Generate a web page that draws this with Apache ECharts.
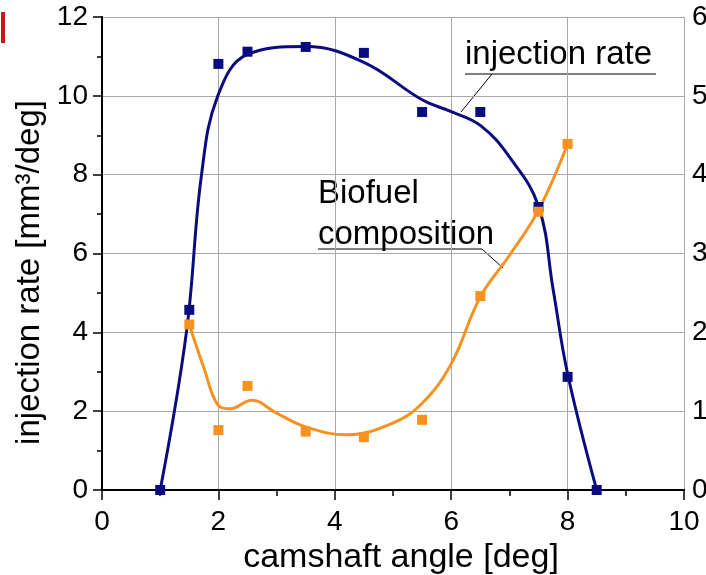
<!DOCTYPE html>
<html>
<head>
<meta charset="utf-8">
<script src="https://cdn.jsdelivr.net/npm/echarts@6/dist/echarts.min.js"></script>
<style>
  html, body { margin: 0; background: #fff; }
  #chart { width: 706px; height: 575px; }
</style>
</head>
<body>
<div id="chart"></div>
<script>
// measured points
const injAngle = [1, 1.5, 2, 2.5, 3.5, 4.5, 5.5, 6.5, 7.5, 8, 8.5]
const injRate = [0, 4.57, 10.81, 11.12, 11.24, 11.09, 9.59, 9.59, 7.18, 2.87, 0]
const bioAngle = [1.5, 2, 2.5, 3.5, 4.5, 5.5, 6.5, 7.5, 8]
const bioComp = [2.1, 0.76, 1.32, 0.74, 0.67, 0.89, 2.46, 3.53, 4.39]

// fitted curves
const injFitAngle = [1, 1.45, 1.71, 1.99, 2.5, 3.5, 4.5, 5.5, 6, 6.5, 7, 7.5, 7.75, 8, 8.5]
const injFit = [0, 4.0, 8.0, 10.0, 11.05, 11.25, 10.85, 9.9, 9.6, 9.25, 8.45, 7.2, 5.1, 2.95, 0]
const bioFitAngle = [1.5, 1.75, 2, 2.2, 2.57, 3, 3.5, 4.2, 5, 5.5, 6, 6.5, 7, 7.5, 8]
const bioFit = [2.1, 1.55, 1.07, 1.03, 1.14, 0.975, 0.8, 0.7, 0.85, 1.1, 1.6, 2.45, 2.975, 3.55, 4.39]

const FONT = '"Liberation Sans", Arial, sans-serif'
const BLUE = '#0b0b80'
const ORANGE = '#f7921f'

const zip = (xs, ys) => xs.map((x, i) => [x, ys[i]])

const chart = echarts.init(document.getElementById('chart'))

const axisLine = { show: true, lineStyle: { color: '#000', width: 2 } }
const tickStyle = { color: '#000', width: 1.5 }

const option = {
  animation: false,
  backgroundColor: '#fff',
  grid: { left: 102, right: 22, top: 17, bottom: 85, containLabel: false, outerBoundsMode: 'none' },
  xAxis: [
    {
      type: 'value',
      min: 0,
      max: 10,
      interval: 2,
      position: 'bottom',
      name: 'camshaft angle [deg]',
      nameLocation: 'middle',
      nameGap: 50,
      nameTextStyle: { fontFamily: FONT, fontSize: 34, color: '#000', padding: [0, 0, 0, 16] },
      axisLine: axisLine,
      axisTick: { show: true, inside: false, length: 10, lineStyle: tickStyle },
      minorTick: { show: true, splitNumber: 2, length: 6, lineStyle: tickStyle },
      axisLabel: { fontFamily: FONT, fontSize: 28, color: '#000', margin: 18 },
      splitLine: { show: true, lineStyle: { color: '#a8a8a8', width: 1 } },
    },
    {
      type: 'value',
      min: 0,
      max: 10,
      interval: 2,
      position: 'top',
      axisLine: axisLine,
      axisTick: { show: true, inside: true, length: 10, lineStyle: tickStyle },
      minorTick: { show: true, splitNumber: 2, length: 6, lineStyle: tickStyle },
      axisLabel: { show: false },
      splitLine: { show: false },
    },
  ],
  yAxis: [
    {
      type: 'value',
      min: 0,
      max: 12,
      interval: 2,
      position: 'left',
      name: 'injection rate [mm³/deg]',
      nameLocation: 'middle',
      nameRotate: 90,
      nameGap: 52,
      nameTextStyle: { fontFamily: FONT, fontSize: 33, color: '#000', padding: [0, 38, 0, 0] },
      axisLine: axisLine,
      axisTick: { show: true, inside: false, length: 9, lineStyle: tickStyle },
      minorTick: { show: true, splitNumber: 2, length: 5, lineStyle: tickStyle },
      axisLabel: { fontFamily: FONT, fontSize: 28, color: '#000', margin: 14 },
      splitLine: { show: true, lineStyle: { color: '#a8a8a8', width: 1 } },
    },
    {
      type: 'value',
      min: 0,
      max: 6,
      interval: 1,
      position: 'right',
      axisLine: axisLine,
      axisTick: { show: true, inside: true, length: 9, lineStyle: tickStyle },
      minorTick: { show: true, splitNumber: 2, length: 5, lineStyle: tickStyle },
      axisLabel: { fontFamily: FONT, fontSize: 28, color: '#000', margin: 8 },
      splitLine: { show: false },
    },
  ],
  series: [
    {
      name: 'injection rate fit',
      type: 'line',
      data: zip(injFitAngle, injFit),
      smooth: 0.4,
      showSymbol: false,
      lineStyle: { color: BLUE, width: 3 },
      z: 3,
    },
    {
      name: 'injection rate',
      type: 'scatter',
      data: zip(injAngle, injRate),
      symbol: 'rect',
      symbolSize: 10,
      itemStyle: { color: BLUE, opacity: 1 },
      z: 4,
    },
    {
      name: 'biofuel fit',
      type: 'line',
      yAxisIndex: 1,
      data: zip(bioFitAngle, bioFit),
      smooth: 0.4,
      showSymbol: false,
      lineStyle: { color: ORANGE, width: 3 },
      z: 3,
    },
    {
      name: 'biofuel composition',
      type: 'scatter',
      yAxisIndex: 1,
      data: zip(bioAngle, bioComp),
      symbol: 'rect',
      symbolSize: 10,
      itemStyle: { color: ORANGE, opacity: 1 },
      z: 4,
    },
  ],
  graphic: [
    { type: 'rect', shape: { x: 1, y: 12, width: 4, height: 31 }, style: { fill: '#d3111c' } },
    {
      type: 'text', x: 465, y: 55,
      style: { text: 'injection rate', font: '33px ' + FONT, fill: '#000', textVerticalAlign: 'middle' },
    },
    { type: 'line', shape: { x1: 465, y1: 74, x2: 656, y2: 74 }, style: { stroke: '#000', lineWidth: 1 } },
    { type: 'line', shape: { x1: 492, y1: 74, x2: 461, y2: 112 }, style: { stroke: '#000', lineWidth: 1 } },
    {
      type: 'text', x: 318, y: 194,
      style: { text: 'Biofuel', font: '33px ' + FONT, fill: '#000', textVerticalAlign: 'middle' },
    },
    {
      type: 'text', x: 318, y: 235,
      style: { text: 'composition', font: '33px ' + FONT, fill: '#000', textVerticalAlign: 'middle' },
    },
    { type: 'line', shape: { x1: 318, y1: 249, x2: 482, y2: 249 }, style: { stroke: '#000', lineWidth: 1 } },
    { type: 'line', shape: { x1: 482, y1: 249, x2: 503, y2: 268 }, style: { stroke: '#000', lineWidth: 1 } },
  ],
}

chart.setOption(option)
</script>
</body>
</html>
